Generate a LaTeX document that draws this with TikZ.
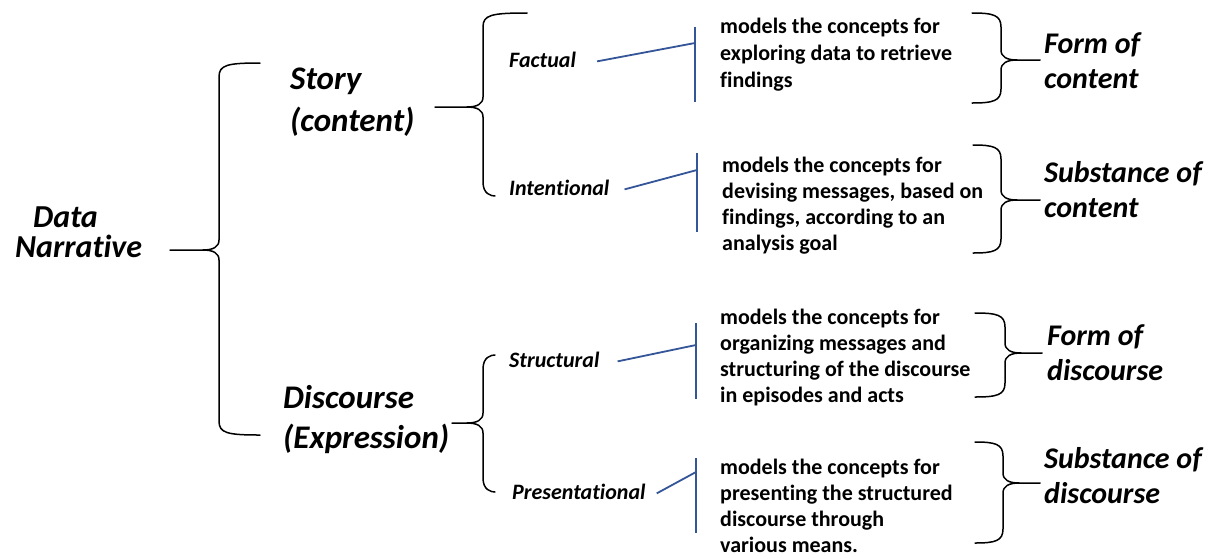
\documentclass[tikz,border=0pt]{standalone}
\usepackage{fontspec}
\setmainfont{Carlito}[Ligatures=NoCommon]
\definecolor{linkblue}{RGB}{52,86,152}

% Left-opening curly brace: top-end x, bottom-end x, spine x, tip x, top y, mid y, bottom y
\newcommand\leftbr[7]{%
  \draw[brace] (#1,#5) .. controls (#3+8,#5) and (#3,#5+2) .. (#3,#5+14)
     -- (#3,#6-10) .. controls (#3,#6-3) and (#3-6,#6) .. (#3-16,#6) -- (#4,#6);
  \draw[brace] (#3-16,#6) .. controls (#3-6,#6) and (#3,#6+3) .. (#3,#6+10)
     -- (#3,#7-14) .. controls (#3,#7-2) and (#3+8,#7) .. (#2,#7);}
% Right-opening curly brace, same arguments
\newcommand\rightbr[7]{%
  \draw[brace] (#1,#5) .. controls (#3-8,#5) and (#3,#5+2) .. (#3,#5+14)
     -- (#3,#6-10) .. controls (#3,#6-3) and (#3+6,#6) .. (#3+16,#6) -- (#4,#6);
  \draw[brace] (#3+16,#6) .. controls (#3+6,#6) and (#3,#6+3) .. (#3,#6+10)
     -- (#3,#7-14) .. controls (#3,#7-2) and (#3-8,#7) .. (#2,#7);}

\begin{document}
% multi-line nodes are placed by the baseline of their last line
\begin{tikzpicture}[x=1pt,y=-1pt,
  brace/.style={line width=1.5pt, line cap=round, line join=round},
  conn/.style={draw=linkblue, line width=1.8pt},
  big/.style={font=\fontsize{33}{40}\selectfont\bfseries\itshape, align=left, inner sep=0pt, anchor=base west},
  side/.style={font=\fontsize{30}{34.5}\selectfont\bfseries\itshape, align=left, inner sep=0pt, anchor=base west},
  kind/.style={font=\fontsize{22}{27}\selectfont\bfseries\itshape, inner sep=0pt, anchor=base west},
  desc/.style={font=\fontsize{22}{26}\selectfont\bfseries, align=left, inner sep=0pt, anchor=base west}]

\fill[white] (0,0) rectangle (1213,558);
\useasboundingbox (0,0) rectangle (1213,558);

% root and main branches
\node[big, font=\fontsize{32}{30}\selectfont\bfseries\itshape] (root) at (15,257) {\hspace*{18pt}Data\\Narrative};
\node[big, font=\fontsize{33}{42}\selectfont\bfseries\itshape] (story) at (290,131) {Story\\(content)};
\node[big] (disc) at (283,448) {Discourse\\(Expression)};

% sub-kinds
\node[kind] (fact) at (509,67) {Factual};
\node[kind] (inten) at (509,195) {Intentional};
\node[kind] (struc) at (509,367) {Structural};
\node[kind] (pres) at (512,499) {Presentational};

% descriptions
\node[desc, font=\fontsize{22}{27}\selectfont\bfseries] (d1) at (720,87) {models the concepts for\\exploring data to retrieve\\findings};
\node[desc] (d2) at (722,250) {models the concepts for\\devising messages, based on\\findings, according to an\\analysis goal};
\node[desc] (d3) at (720,402) {models the concepts for\\organizing messages and\\structuring of the discourse\\in episodes and acts};
\node[desc] (d4) at (720,552) {models the concepts for\\presenting the structured\\discourse through\\various means.};

% semiotic planes
\node[side] (fc) at (1044,88) {Form of\\content};
\node[side] (sc) at (1044,217) {Substance of\\content};
\node[side] (fd) at (1047,380) {Form of\\discourse};
\node[side] (sd) at (1044,503) {Substance of\\discourse};

% braces
\leftbr{260}{260}{219}{170}{63}{250}{435}
\leftbr{527}{495}{483}{435}{13}{107}{196}
\leftbr{495}{495}{483}{452}{355}{423}{492}
\rightbr{972}{972}{1001}{1040}{13}{60}{103}
\rightbr{973}{973}{1001}{1040}{145}{200}{253}
\rightbr{975}{975}{1005}{1042}{313}{353}{397}
\rightbr{975}{975}{1003}{1040}{442}{483}{543}

% bars in front of the descriptions
\coordinate (f1) at (695,27);  \coordinate (f2) at (695,102);  \coordinate (fj) at (695,43);
\coordinate (i1) at (697,153); \coordinate (i2) at (697,232);  \coordinate (ij) at (697,170);
\coordinate (s1) at (696,323); \coordinate (s2) at (696,399);  \coordinate (sj) at (696,345);
\coordinate (p1) at (696,458); \coordinate (p2) at (696,533);  \coordinate (pj) at (696,472);
\draw[conn] (f1) -- (f2);
\draw[conn] (i1) -- (i2);
\draw[conn] (s1) -- (s2);
\draw[conn] (p1) -- (p2);
\draw[conn] ([xshift=21pt,yshift=-2pt]fact.east) -- (fj);
\draw[conn] ([xshift=15pt,yshift=-2pt]inten.east) -- (ij);
\draw[conn] ([xshift=18pt,yshift=-2pt]struc.east) -- (sj);
\draw[conn] ([xshift=11pt,yshift=-2pt]pres.east) -- (pj);
\end{tikzpicture}
\end{document}
